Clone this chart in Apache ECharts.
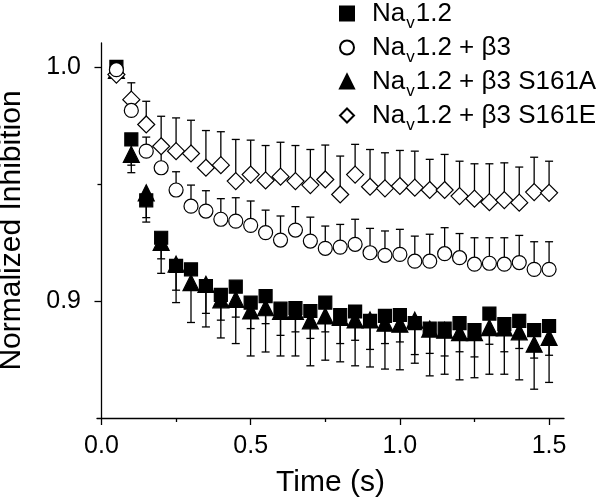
<!DOCTYPE html>
<html>
<head>
<meta charset="utf-8">
<title>Normalized Inhibition</title>
<script src="https://cdn.jsdelivr.net/npm/echarts@6/dist/echarts.min.js"></script>
<style>
  html, body { margin: 0; padding: 0; background: #fff; }
  #chart { width: 601px; height: 498px; }
</style>
</head>
<body>
<div id="chart"></div>
<script>
// time points (s)
const times = [0.05, 0.10, 0.15, 0.20, 0.25, 0.30, 0.35, 0.40, 0.45, 0.50,
  0.55, 0.60, 0.65, 0.70, 0.75, 0.80, 0.85, 0.90, 0.95, 1.00,
  1.05, 1.10, 1.15, 1.20, 1.25, 1.30, 1.35, 1.40, 1.45, 1.50]

// Nav1.2 (filled squares), error bars drawn downward
const nav12 = [1.000, 0.969, 0.943, 0.927, 0.915, 0.9135, 0.9064, 0.9026, 0.9061, 0.8993,
  0.9021, 0.8967, 0.897, 0.8957, 0.8993, 0.894, 0.8955, 0.8915, 0.8936, 0.894,
  0.8905, 0.8882, 0.8882, 0.8905, 0.8875, 0.8946, 0.8901, 0.8915, 0.8875, 0.8893]
const nav12Err = [0.001, 0.011, 0.0093, 0.009, 0.0104, 0.0085, 0.0117, 0.0108, 0.013, 0.0111,
  0.0118, 0.0114, 0.0102, 0.0117, 0.0125, 0.0122, 0.0123, 0.0122, 0.0118, 0.0115,
  0.0134, 0.0106, 0.0117, 0.0122, 0.0114, 0.0131, 0.0118, 0.0118, 0.0119, 0.0125]

// Nav1.2 + b3 (open circles), error bars upward
const beta3 = [0.9988, 0.9814, 0.964, 0.9569, 0.9474, 0.9405, 0.9384, 0.9349, 0.9341, 0.9323,
  0.9292, 0.926, 0.9303, 0.9256, 0.9225, 0.923, 0.9242, 0.9206, 0.9195, 0.9199,
  0.917, 0.917, 0.9202, 0.9185, 0.9157, 0.9161, 0.9157, 0.9164, 0.9135, 0.9135]
const beta3Err = [0.001, 0.005, 0.006, 0.0082, 0.0078, 0.009, 0.0087, 0.0088, 0.01, 0.0104,
  0.0096, 0.0103, 0.01, 0.0102, 0.0095, 0.0097, 0.0107, 0.0104, 0.0104, 0.0107,
  0.0107, 0.0115, 0.0111, 0.0103, 0.0113, 0.0109, 0.0113, 0.0116, 0.0118, 0.0118]

// Nav1.2 + b3 S161A (filled triangles), error bars downward
const s161a = [0.9985, 0.9626, 0.9462, 0.925, 0.9157, 0.9078, 0.9071, 0.9005, 0.9007, 0.8957,
  0.8971, 0.8955, 0.8955, 0.8915, 0.8936, 0.893, 0.8919, 0.8919, 0.8905, 0.8901,
  0.8918, 0.888, 0.8875, 0.8865, 0.8865, 0.8886, 0.8885, 0.8868, 0.8815, 0.8844]
const s161aErr = [0.001, 0.0078, 0.0106, 0.0132, 0.0164, 0.017, 0.0182, 0.0163, 0.0189, 0.0192,
  0.0189, 0.019, 0.019, 0.0192, 0.0189, 0.019, 0.0196, 0.0201, 0.0196, 0.0195,
  0.0184, 0.02, 0.0188, 0.0202, 0.0193, 0.0199, 0.0198, 0.0205, 0.0192, 0.0192]

// Nav1.2 + b3 S161E (open diamonds), error bars upward
const s161e = [0.9967, 0.986, 0.9754, 0.9661, 0.964, 0.963, 0.9569, 0.958, 0.9512, 0.954,
  0.9515, 0.9531, 0.9512, 0.9495, 0.9519, 0.9455, 0.954, 0.9488, 0.9481, 0.9491,
  0.9484, 0.9474, 0.9474, 0.9448, 0.9437, 0.9422, 0.9431, 0.942, 0.9465, 0.9462]
const s161eErr = [0.001, 0.0072, 0.0099, 0.0128, 0.0142, 0.0142, 0.0159, 0.0143, 0.0178, 0.0147,
  0.0149, 0.0147, 0.0152, 0.0152, 0.0147, 0.0164, 0.0129, 0.0159, 0.0152, 0.0152,
  0.0156, 0.0131, 0.0152, 0.0149, 0.0149, 0.0164, 0.0159, 0.0152, 0.0149, 0.0135]

const names = ['Nav1.2', 'Nav1.2 + β3', 'Nav1.2 + β3 S161A', 'Nav1.2 + β3 S161E']
const xLabels = [0, 0.5, 1.0, 1.5]
const xMinor = [0.25, 0.75, 1.25]
const yLabels = [0.9, 1.0]
const yMinor = [0.95]

const FONT = 'Liberation Sans'

function pairs(ys) {
  return times.map((t, i) => [t, ys[i]])
}
function triples(ys, errs) {
  return times.map((t, i) => [t, ys[i], errs[i]])
}

// vertical error bar with a cap, dir = 1 up, -1 down
function errorBar(dir) {
  return function (params, api) {
    const x = api.value(0)
    const y = api.value(1)
    const e = api.value(2)
    const p0 = api.coord([x, y])
    const p1 = api.coord([x, y + dir * e])
    const style = { stroke: '#000', lineWidth: 1.3 }
    return {
      type: 'group',
      children: [
        { type: 'line', shape: { x1: p0[0], y1: p0[1], x2: p1[0], y2: p1[1] }, style: style },
        { type: 'line', shape: { x1: p1[0] - 4, y1: p1[1], x2: p1[0] + 4, y2: p1[1] }, style: style }
      ]
    }
  }
}

function errSeries(ys, errs, dir) {
  return {
    type: 'custom',
    renderItem: errorBar(dir),
    data: triples(ys, errs),
    encode: { x: 0, y: 1 },
    z: 1,
    silent: true
  }
}

function markSeries(name, ys, symbol, size, fill, z) {
  return {
    name: name,
    type: 'scatter',
    data: pairs(ys),
    symbol: symbol,
    symbolSize: size,
    symbolKeepAspect: true,
    itemStyle: { color: fill, borderColor: '#000', borderWidth: 1.2, opacity: 1 },
    z: z
  }
}

const chart = echarts.init(document.getElementById('chart'))

const option = {
  animation: false,
  backgroundColor: '#fff',
  textStyle: { fontFamily: FONT, color: '#000' },
  grid: { left: 97, right: 37, top: 43, bottom: 80, outerBoundsMode: 'none', containLabel: false },
  legend: {
    orient: 'vertical',
    left: 339,
    top: -5,
    padding: 0,
    itemWidth: 14,
    itemHeight: 14,
    itemGap: -3,
    symbolKeepAspect: true,
    selectedMode: false,
    data: names,
    formatter: function (name) {
      return '{a|Na}{s|v}{n|' + name.slice(3) + '}'
    },
    textStyle: {
      fontFamily: FONT,
      color: '#000',
      rich: {
        a: { fontSize: 26, lineHeight: 28, padding: [0, 0, 0, 13], fontFamily: FONT, color: '#000' },
        n: { fontSize: 26, lineHeight: 28, fontFamily: FONT, color: '#000' },
        s: { fontSize: 17, lineHeight: 8, padding: [20, 1, 0, 1], fontFamily: FONT, color: '#000' }
      }
    }
  },
  xAxis: [
    {
      type: 'value',
      min: -0.015,
      max: 1.55,
      position: 'bottom',
      name: 'Time (s)',
      nameLocation: 'middle',
      nameGap: 50,
      nameTextStyle: { fontSize: 30, fontFamily: FONT, color: '#000' },
      splitLine: { show: false },
      axisLine: { onZero: false, lineStyle: { color: '#000', width: 1.3 } },
      axisTick: { length: 7, customValues: xLabels, lineStyle: { color: '#000', width: 1.3 } },
      axisLabel: {
        customValues: xLabels,
        margin: 16,
        fontSize: 25,
        fontFamily: FONT,
        color: '#000',
        formatter: v => v.toFixed(1)
      }
    },
    {
      type: 'value',
      min: -0.015,
      max: 1.55,
      position: 'bottom',
      splitLine: { show: false },
      axisLine: { show: false, onZero: false },
      axisTick: { length: 4, customValues: xMinor, lineStyle: { color: '#000', width: 1.3 } },
      axisLabel: { show: false }
    }
  ],
  yAxis: [
    {
      type: 'value',
      min: 0.85,
      max: 1.0102,
      position: 'left',
      name: 'Normalized Inhibition',
      nameLocation: 'middle',
      nameGap: 70,
      nameTextStyle: { fontSize: 30, fontFamily: FONT, color: '#000' },
      splitLine: { show: false },
      axisLine: { onZero: true, lineStyle: { color: '#000', width: 1.3 } },
      axisTick: { length: 7, customValues: yLabels, lineStyle: { color: '#000', width: 1.3 } },
      axisLabel: {
        customValues: yLabels,
        margin: 16,
        fontSize: 25,
        fontFamily: FONT,
        color: '#000',
        formatter: v => v.toFixed(1)
      }
    },
    {
      type: 'value',
      min: 0.85,
      max: 1.0102,
      position: 'left',
      splitLine: { show: false },
      axisLine: { show: false, onZero: true },
      axisTick: { length: 4, customValues: yMinor, lineStyle: { color: '#000', width: 1.3 } },
      axisLabel: { show: false }
    }
  ],
  series: [
    errSeries(nav12, nav12Err, -1),
    errSeries(s161a, s161aErr, -1),
    errSeries(beta3, beta3Err, 1),
    errSeries(s161e, s161eErr, 1),
    markSeries(names[2], s161a, 'triangle', 16, '#000', 3),
    markSeries(names[0], nav12, 'rect', 13, '#000', 4),
    markSeries(names[3], s161e, 'diamond', 17, '#fff', 5),
    markSeries(names[1], beta3, 'circle', 14, '#fff', 6)
  ]
}

chart.setOption(option)
</script>
</body>
</html>
